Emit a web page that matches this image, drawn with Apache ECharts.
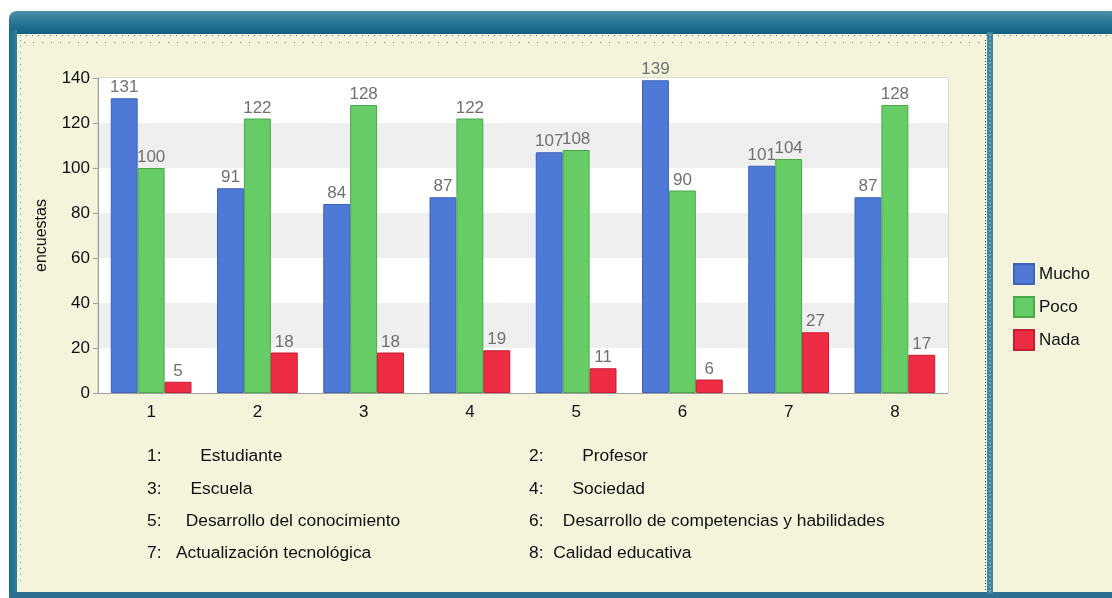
<!DOCTYPE html>
<html><head><meta charset="utf-8">
<script src="https://cdn.jsdelivr.net/npm/echarts@6/dist/echarts.min.js"></script>
<style>html,body{margin:0;padding:0;background:#fff}#c{width:1112px;height:598px}</style>
</head><body><div id="c"></div>
<script>
const categories = ['1','2','3','4','5','6','7','8'];
const mucho = [131, 91, 84, 87, 107, 139, 101, 87];
const poco = [100, 122, 128, 122, 108, 90, 104, 128];
const nada = [5, 18, 18, 19, 11, 6, 27, 17];
const seriesNames = ['Mucho', 'Poco', 'Nada'];
const yTicks = [0, 20, 40, 60, 80, 100, 120, 140];
const descriptions = [
  '1:        Estudiante', '2:        Profesor',
  '3:      Escuela', '4:      Sociedad',
  '5:     Desarrollo del conocimiento', '6:    Desarrollo de competencias y habilidades',
  '7:   Actualización tecnológica', '8:  Calidad educativa'
];

const chart = echarts.init(document.getElementById('c'), null, {renderer: 'canvas'});
const font = 'Liberation Sans, Arial, sans-serif';
const colors = ['#4f79d6', '#66cc66', '#ee2d44'];
const borders = ['#3d62b8', '#4aa84a', '#c81c30'];

const frame = [
  {type: 'rect', z: -10, shape: {x: 0, y: 0, width: 1112, height: 598}, style: {fill: '#ffffff'}},
  {type: 'rect', z: -9, shape: {x: 9, y: 11, width: 1103, height: 587}, style: {fill: '#f4f3dc'}},
  {type: 'rect', z: -8, shape: {x: 9, y: 11, width: 1103, height: 23, r: [8, 0, 0, 0]},
    style: {fill: new echarts.graphic.LinearGradient(0, 0, 0, 1, [
      {offset: 0, color: '#4d8fa8'}, {offset: 0.5, color: '#2a7796'}, {offset: 1, color: '#0f5f80'}])}},
  {type: 'rect', z: -8, shape: {x: 9, y: 30, width: 8, height: 568},
    style: {fill: new echarts.graphic.LinearGradient(0, 0, 1, 0, [
      {offset: 0, color: '#1a6a8a'}, {offset: 1, color: '#2f80a0'}])}},
  {type: 'rect', z: -8, shape: {x: 17, y: 34, width: 4, height: 4}, style: {fill: '#f4f3dc'}},
  {type: 'rect', z: -8, shape: {x: 9, y: 592, width: 1103, height: 6}, style: {fill: '#2b7090'}},
  {type: 'rect', z: -8, shape: {x: 987, y: 32, width: 6, height: 562}, style: {fill: '#3a86a4'}},
  {type: 'line', z: -7, shape: {x1: 990, y1: 34, x2: 990, y2: 592}, style: {stroke: '#9cc4d4', lineWidth: 1, lineDash: [2, 2]}},
  {type: 'line', z: -7, shape: {x1: 985.5, y1: 40, x2: 985.5, y2: 592}, style: {stroke: '#333', lineWidth: 1, lineDash: [1, 2]}},
  {type: 'line', z: -7, shape: {x1: 20, y1: 35.5, x2: 1112, y2: 35.5}, style: {stroke: '#666', lineWidth: 1, lineDash: [1, 5]}},
  {type: 'line', z: -7, shape: {x1: 24, y1: 42.5, x2: 984, y2: 42.5}, style: {stroke: '#777', lineWidth: 1, lineDash: [1, 8]}},
  {type: 'line', z: -7, shape: {x1: 20.5, y1: 40, x2: 20.5, y2: 585}, style: {stroke: '#888', lineWidth: 1, lineDash: [1, 5]}}
];

const descTexts = descriptions.map((t, i) => ({
  type: 'text', z: 5,
  left: (i % 2 === 0) ? 147 : 529,
  top: 448 + Math.floor(i / 2) * 32.4,
  style: {text: t, font: '17.4px ' + font, fill: '#111'}
}));

const mkSeries = (name, data, i) => ({
  name, type: 'bar', data, barGap: '0%', barCategoryGap: '24%',
  itemStyle: {color: colors[i], borderColor: borders[i], borderWidth: 1},
  label: {show: true, position: 'top', distance: 2, color: '#707070', fontSize: 17, fontFamily: font}
});

chart.setOption({
  animation: false,
  backgroundColor: 'transparent',
  graphic: frame.concat(descTexts),
  legend: {
    data: seriesNames, orient: 'vertical', left: 1008, top: 258,
    itemWidth: 20, itemHeight: 20, itemGap: 11,
    icon: 'rect',
    textStyle: {fontSize: 17, fontFamily: font, color: '#111'}
  },
  grid: {left: 98, right: 164, top: 78, bottom: 205, show: true, backgroundColor: '#fff', borderColor: '#c4c4b4', borderWidth: 1},
  xAxis: {
    type: 'category', data: categories,
    axisLine: {lineStyle: {color: '#a0a0a0'}},
    axisTick: {alignWithLabel: true, length: 5, lineStyle: {color: '#a0a0a0'}},
    axisLabel: {fontSize: 17, fontFamily: font, color: '#111', margin: 11}
  },
  yAxis: {
    type: 'value', min: yTicks[0], max: yTicks[yTicks.length - 1], interval: 20,
    name: 'encuestas', nameLocation: 'middle', nameGap: 48, nameRotate: 90,
    nameTextStyle: {fontSize: 16, fontFamily: font, color: '#111'},
    axisLine: {show: true, lineStyle: {color: '#a0a0a0'}},
    axisTick: {show: true, length: 5, lineStyle: {color: '#a0a0a0'}},
    axisLabel: {fontSize: 17, fontFamily: font, color: '#111', margin: 8},
    splitLine: {show: false},
    splitArea: {show: true, areaStyle: {color: ['#ffffff', '#efefef']}}
  },
  series: [mkSeries(seriesNames[0], mucho, 0), mkSeries(seriesNames[1], poco, 1), mkSeries(seriesNames[2], nada, 2)]
});
</script></body></html>
